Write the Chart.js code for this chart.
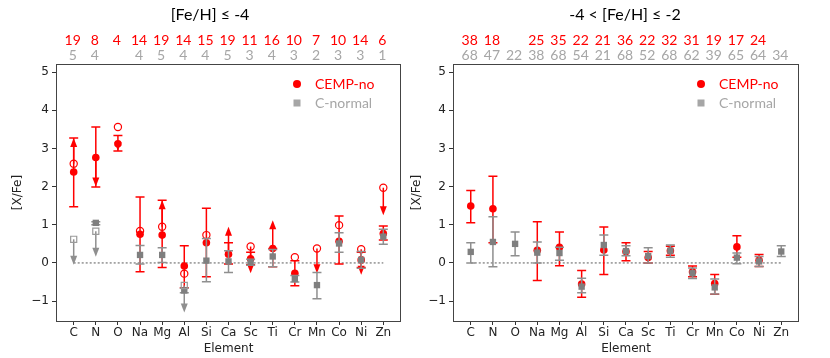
<!DOCTYPE html>
<html>
<head>
<meta charset="utf-8">
<script src="https://cdn.jsdelivr.net/npm/chart.js@4.4.1/dist/chart.umd.min.js"></script>
<style>
  html, body { margin: 0; padding: 0; background: #fff; }
  #wrap { position: relative; width: 830px; height: 358px; overflow: hidden; }
  canvas { position: absolute; top: 0; }
  #c1 { left: 0; }
  #c2 { left: 400px; }
</style>
</head>
<body>
<div id="wrap">
  <canvas id="c1" width="415" height="358"></canvas>
  <canvas id="c2" width="430" height="358"></canvas>
</div>
<script>
const elements = ['C', 'N', 'O', 'Na', 'Mg', 'Al', 'Si', 'Ca', 'Sc', 'Ti', 'Cr', 'Mn', 'Co', 'Ni', 'Zn'];
const yTicks = [-1, 0, 1, 2, 3, 4, 5];

// panel 1: [Fe/H] <= -4
const p1RedN  = [19, 8, 4, 14, 19, 14, 15, 19, 11, 16, 10, 7, 10, 14, 6];
const p1GrayN = [5, 4, null, 4, 5, 4, 4, 5, 3, 4, 3, 2, 3, 3, 1];
const p1RedMean = [2.38, 2.76, 3.12, 0.75, 0.73, -0.08, 0.53, 0.23, 0.11, 0.38, -0.27, null, 0.57, 0.08, 0.77];
const p1RedLo   = [1.47, 1.99, 2.93, -0.23, -0.12, -0.65, -0.36, -0.03, -0.05, -0.10, -0.60, null, -0.03, -0.12, 0.60];
const p1RedHi   = [3.27, 3.56, 3.34, 1.73, 1.64, 0.45, 1.43, 0.53, 0.28, 0.38, 0.06, null, 1.23, 0.28, 0.97];
const p1RedLim  = [2.60, null, 3.56, 0.84, 0.95, -0.28, 0.73, null, 0.43, null, 0.15, 0.38, 0.99, 0.36, 1.97];
const p1RedArrFrom = [2.60, 2.76, 3.12, null, 0.95, null, null, 0.23, 0.43, 0.38, null, 0.38, null, 0.36, 1.97];
const p1RedArrTo   = [3.27, 2.00, 2.93, null, 1.64, null, null, 0.95, -0.27, 1.12, null, -0.27, null, -0.31, 1.25];
const p1GrayMean = [null, 1.05, null, 0.21, 0.21, -0.72, 0.06, 0.04, 0.02, 0.17, -0.42, -0.58, 0.51, 0.08, 0.69];
const p1GrayLo   = [null, 1.00, null, -0.03, 0.01, -0.78, -0.49, -0.25, -0.06, -0.10, -0.50, -0.94, 0.28, -0.14, 0.49];
const p1GrayHi   = [null, 1.08, null, 0.46, 0.40, -0.66, 0.64, 0.32, 0.10, 0.35, -0.33, -0.25, 0.79, 0.30, 0.88];
const p1GrayLim  = [0.62, 0.83, null, null, null, -0.59, null, null, null, null, null, null, null, null, null];
const p1GrayArrFrom = [0.62, 0.83, null, null, null, -0.59, null, null, null, null, null, null, null, null, null];
const p1GrayArrTo   = [-0.05, 0.16, null, null, null, -1.30, null, null, null, null, null, null, null, null, null];

// panel 2: -4 < [Fe/H] <= -2
const p2RedN  = [38, 18, null, 25, 35, 22, 21, 36, 22, 32, 31, 19, 17, 24, null];
const p2GrayN = [68, 47, 22, 38, 68, 54, 21, 68, 52, 68, 62, 39, 65, 64, 34];
const p2RedMean = [1.49, 1.42, null, 0.33, 0.41, -0.55, 0.34, 0.30, 0.14, 0.32, -0.23, -0.54, 0.42, 0.07, null];
const p2RedLo   = [1.05, 0.53, null, -0.46, -0.07, -0.90, -0.30, 0.06, 0.00, 0.20, -0.36, -0.82, 0.15, -0.09, null];
const p2RedHi   = [1.90, 2.27, null, 1.08, 0.81, -0.20, 0.94, 0.53, 0.30, 0.44, -0.08, -0.30, 0.71, 0.22, null];
const p2GrayMean = [0.29, 0.55, 0.50, 0.27, 0.26, -0.62, 0.47, 0.31, 0.18, 0.32, -0.27, -0.64, 0.14, 0.04, 0.30];
const p2GrayLo   = [0.00, -0.10, 0.19, 0.00, 0.07, -0.78, 0.20, 0.19, 0.00, 0.15, -0.41, -0.81, -0.02, -0.09, 0.17];
const p2GrayHi   = [0.53, 1.21, 0.81, 0.55, 0.41, -0.40, 0.73, 0.45, 0.40, 0.47, -0.13, -0.42, 0.26, 0.17, 0.45];

const RED = '#ff0000';
const GRAY = '#7f7f7f';
const GRAY_BAR = '#8f8f8f';
const GRAY_TXT = '#a6a6a6';
const TICK_FONT = { family: 'DejaVu Sans', size: 12 };

const pts = arr => arr.map((v, i) => (v == null ? null : { x: i, y: v })).filter(Boolean);

function drawBars(ctx, x, y, s) {
    ctx.save();
    ctx.strokeStyle = s.color;
    ctx.fillStyle = s.color;
    ctx.lineWidth = 1.5;
    s.lo.forEach((lo, i) => {
        const hi = s.hi[i];
        if (lo == null || hi == null) return;
        const px = x.getPixelForValue(i);
        const y0 = y.getPixelForValue(lo), y1 = y.getPixelForValue(hi);
        ctx.beginPath();
        ctx.moveTo(px, y0); ctx.lineTo(px, y1);
        ctx.moveTo(px - 4.5, y0); ctx.lineTo(px + 4.5, y0);
        ctx.moveTo(px - 4.5, y1); ctx.lineTo(px + 4.5, y1);
        ctx.stroke();
    });
    (s.from || []).forEach((f, i) => {
        const t = s.to[i];
        if (f == null || t == null) return;
        const px = x.getPixelForValue(i);
        const yf = y.getPixelForValue(f), yt = y.getPixelForValue(t);
        const dir = yt > yf ? 1 : -1;
        ctx.beginPath();
        ctx.moveTo(px, yf); ctx.lineTo(px, yt - dir * 4);
        ctx.stroke();
        ctx.beginPath();
        ctx.moveTo(px, yt);
        ctx.lineTo(px - 3.5, yt - dir * 9);
        ctx.lineTo(px + 3.5, yt - dir * 9);
        ctx.closePath();
        ctx.fill();
    });
    ctx.restore();
}

// error bars and limit arrows, drawn just under their own markers
const errorBars = {
    id: 'errorBars',
    beforeDatasetsDraw(chart) {
        const { ctx, chartArea: a, scales: { x, y } } = chart;
        ctx.save();
        ctx.strokeStyle = '#444';
        ctx.lineWidth = 1;
        ctx.strokeRect(a.left + 0.5, a.top + 0.5, a.right - a.left - 1, a.bottom - a.top);
        ctx.strokeStyle = '#333';
        ctx.lineWidth = 0.8;
        ctx.setLineDash([2, 2]);
        ctx.beginPath();
        ctx.moveTo(x.getPixelForValue(0), y.getPixelForValue(0));
        ctx.lineTo(x.getPixelForValue(elements.length - 1), y.getPixelForValue(0));
        ctx.stroke();
        ctx.restore();
    },
    beforeDatasetDraw(chart, args, opts) {
        const { ctx, scales: { x, y } } = chart;
        const ds = chart.data.datasets[args.index];
        if (ds.barKey && opts[ds.barKey]) drawBars(ctx, x, y, opts[ds.barKey]);
    }
};

const panelText = {
    id: 'panelText',
    afterDraw(chart, args, o) {
        const { ctx, scales: { x } } = chart;
        ctx.save();
        ctx.textAlign = 'center';
        ctx.textBaseline = 'middle';
        ctx.fillStyle = '#000';
        ctx.font = '16px Lato';
        ctx.fillText(o.title, o.titleX, 15);
        ctx.font = '14px Lato';
        o.redN.forEach((n, i) => {
            if (n == null) return;
            ctx.fillStyle = RED;
            ctx.fillText(String(n), x.getPixelForValue(i) - 1, 40);
        });
        o.grayN.forEach((n, i) => {
            if (n == null) return;
            ctx.fillStyle = GRAY_TXT;
            ctx.fillText(String(n), x.getPixelForValue(i) - 1, 55);
        });
        // legend
        const lx = o.legendX;
        ctx.textAlign = 'left';
        ctx.fillStyle = RED;
        ctx.beginPath(); ctx.arc(lx, 84, 4, 0, Math.PI * 2); ctx.fill();
        ctx.fillText('CEMP-no', lx + 18, 84);
        ctx.fillStyle = GRAY_TXT;
        ctx.fillRect(lx - 3.5, 99.5, 7, 7);
        ctx.fillText('C-normal', lx + 18, 103);
        ctx.restore();
    }
};

function makePanel(id, p) {
    return new Chart(document.getElementById(id), {
        type: 'scatter',
        data: {
            datasets: [
                { label: 'C-normal limit', data: pts(p.grayLim), pointStyle: 'rect', pointRadius: 4.3,
                  backgroundColor: 'rgba(0,0,0,0)', borderColor: '#9a9a9a', borderWidth: 1.2 },
                { label: 'C-normal', barKey: 'gray', data: pts(p.grayMean), pointStyle: 'rect', pointRadius: 4.5,
                  backgroundColor: GRAY, borderColor: GRAY, borderWidth: 0 },
                { label: 'CEMP-no limit', data: pts(p.redLim), pointStyle: 'circle', pointRadius: 3.6,
                  backgroundColor: 'rgba(0,0,0,0)', borderColor: RED, borderWidth: 1.2 },
                { label: 'CEMP-no', barKey: 'red', data: pts(p.redMean), pointStyle: 'circle', pointRadius: 3.8,
                  backgroundColor: RED, borderColor: RED, borderWidth: 0 }
            ]
        },
        options: {
            responsive: false,
            animation: false,
            devicePixelRatio: 1,
            layout: { padding: { top: 64, right: p.padRight, left: 0, bottom: 0 } },
            plugins: {
                legend: { display: false },
                tooltip: { enabled: false },
                errorBars: {
                    red: { color: RED, lo: p.redLo, hi: p.redHi, from: p.redFrom, to: p.redTo },
                    gray: { color: GRAY_BAR, lo: p.grayLo, hi: p.grayHi, from: p.grayFrom, to: p.grayTo }
                },
                panelText: { title: p.title, titleX: p.titleX, redN: p.redN, grayN: p.grayN, legendX: p.legendX }
            },
            scales: {
                x: {
                    type: 'linear',
                    min: -0.8,
                    max: 14.8,
                    afterBuildTicks: s => { s.ticks = elements.map((_, i) => ({ value: i })); },
                    afterFit: s => { s.height = 37; },
                    border: { display: false },
                    grid: { drawOnChartArea: false, drawTicks: true, tickLength: 4, color: '#333' },
                    ticks: { callback: v => elements[v], font: TICK_FONT, color: '#222', padding: 1,
                             maxRotation: 0, autoSkip: false },
                    title: { display: true, text: 'Element', font: TICK_FONT, color: '#222',
                             padding: { top: 0, bottom: 2 } }
                },
                y: {
                    min: -1.52,
                    max: 5.21,
                    afterBuildTicks: s => { s.ticks = yTicks.map(v => ({ value: v })); },
                    afterFit: s => { s.width = p.yWidth; },
                    border: { display: false },
                    grid: { drawOnChartArea: false, drawTicks: true, tickLength: 4, color: '#333' },
                    ticks: { callback: v => (v < 0 ? '\u2212' + Math.abs(v) : String(v)), font: TICK_FONT,
                             color: '#222', padding: 3 },
                    title: { display: true, text: '[X/Fe]', font: TICK_FONT, color: '#222',
                             padding: { top: p.yTitlePad, bottom: 0 } }
                }
            }
        },
        plugins: [errorBars, panelText]
    });
}

makePanel('c1', {
    title: '[Fe/H] \u2264 -4', titleX: 210, legendX: 297, padRight: 14, yWidth: 56, yTitlePad: 11,
    redN: p1RedN, grayN: p1GrayN,
    redMean: p1RedMean, redLo: p1RedLo, redHi: p1RedHi, redLim: p1RedLim, redFrom: p1RedArrFrom, redTo: p1RedArrTo,
    grayMean: p1GrayMean, grayLo: p1GrayLo, grayHi: p1GrayHi, grayLim: p1GrayLim,
    grayFrom: p1GrayArrFrom, grayTo: p1GrayArrTo
});

makePanel('c2', {
    title: '-4 < [Fe/H] \u2264 -2', titleX: 225, legendX: 301, padRight: 31, yWidth: 53, yTitlePad: 10,
    redN: p2RedN, grayN: p2GrayN,
    redMean: p2RedMean, redLo: p2RedLo, redHi: p2RedHi, redLim: [], redFrom: [], redTo: [],
    grayMean: p2GrayMean, grayLo: p2GrayLo, grayHi: p2GrayHi, grayLim: [], grayFrom: [], grayTo: []
});
</script>
</body>
</html>
